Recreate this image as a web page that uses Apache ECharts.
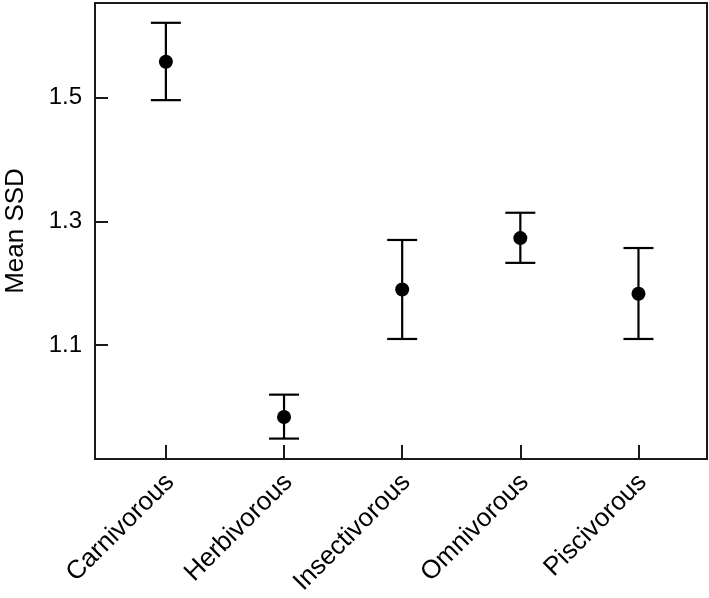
<!DOCTYPE html>
<html>
<head>
<meta charset="utf-8">
<script src="https://cdn.jsdelivr.net/npm/echarts@6/dist/echarts.min.js"></script>
<style>
html,body{margin:0;padding:0;background:#fff;}
#chart{width:709px;height:598px;}
</style>
</head>
<body>
<div id="chart"></div>
<script>
const categories = ['Carnivorous', 'Herbivorous', 'Insectivorous', 'Omnivorous', 'Piscivorous'];
const means = [1.558, 0.984, 1.190, 1.273, 1.183];
const lower = [1.496, 0.949, 1.110, 1.233, 1.110];
const upper = [1.621, 1.020, 1.270, 1.314, 1.257];
const yTicks = [1.1, 1.3, 1.5];
const xPositions = [1, 2, 3, 4, 5];

const FONT = 'Liberation Sans, Arial, sans-serif';
const chart = echarts.init(document.getElementById('chart'), null, {renderer: 'canvas'});

const pointData = xPositions.map((x, i) => [x, means[i]]);
const barData = xPositions.map((x, i) => [x, lower[i], upper[i]]);

const option = {
  backgroundColor: '#fff',
  animation: false,
  grid: {
    left: 95, top: 3, width: 612, height: 456,
    outerBoundsMode: 'none', containLabel: false,
    show: true, borderColor: '#1a1a1a', borderWidth: 2, backgroundColor: 'transparent'
  },
  xAxis: {
    type: 'value',
    min: 0.4, max: 5.58,
    splitLine: {show: false},
    axisLine: {show: true, onZero: false, lineStyle: {color: '#1a1a1a', width: 2}},
    axisTick: {show: true, inside: true, length: 14, customValues: xPositions, lineStyle: {color: '#1a1a1a', width: 2}},
    axisLabel: {
      show: true, customValues: xPositions,
      formatter: v => categories[Math.round(v) - 1] || '',
      rotate: 45, align: 'right', verticalAlign: 'top', margin: 5,
      padding: [0, 7, 0, 0],
      fontFamily: FONT, fontSize: 26, color: '#000'
    }
  },
  yAxis: {
    type: 'value',
    min: 0.916, max: 1.653,
    name: 'Mean SSD', nameLocation: 'middle', nameRotate: 90, nameGap: 66,
    nameTextStyle: {fontFamily: FONT, fontSize: 26, color: '#000'},
    splitLine: {show: false},
    axisLine: {show: true, lineStyle: {color: '#1a1a1a', width: 2}},
    axisTick: {show: true, inside: true, length: 13, customValues: yTicks, lineStyle: {color: '#1a1a1a', width: 2}},
    axisLabel: {
      show: true, customValues: yTicks, margin: 13,
      formatter: v => v.toFixed(1),
      fontFamily: FONT, fontSize: 24, color: '#000'
    }
  },
  series: [
    {
      type: 'custom',
      data: barData,
      renderItem: function (params, api) {
        const x = api.value(0);
        const lo = api.coord([x, api.value(1)]);
        const hi = api.coord([x, api.value(2)]);
        const hw = 15;
        const style = {stroke: '#000', lineWidth: 2.2};
        return {
          type: 'group',
          children: [
            {type: 'line', shape: {x1: lo[0], y1: lo[1], x2: hi[0], y2: hi[1]}, style: style},
            {type: 'line', shape: {x1: lo[0] - hw, y1: lo[1], x2: lo[0] + hw, y2: lo[1]}, style: style},
            {type: 'line', shape: {x1: hi[0] - hw, y1: hi[1], x2: hi[0] + hw, y2: hi[1]}, style: style}
          ]
        };
      },
      z: 2
    },
    {
      type: 'scatter',
      data: pointData,
      symbol: 'circle',
      symbolSize: 14,
      itemStyle: {color: '#000', opacity: 1},
      z: 3
    }
  ]
};
chart.setOption(option);
</script>
</body>
</html>
